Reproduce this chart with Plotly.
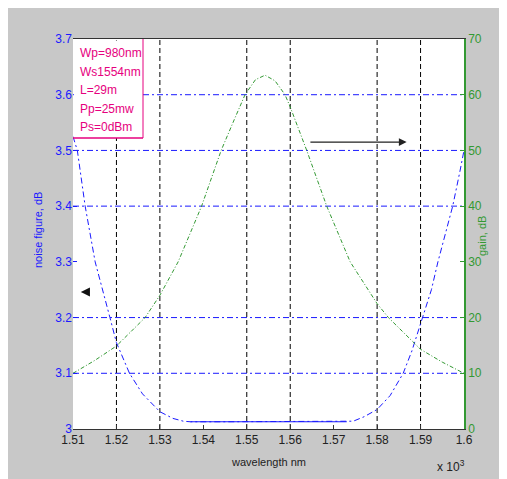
import plotly.graph_objects as go
import numpy as np

# ---------------- data ----------------
nf_wavelength = [1.510, 1.511, 1.5128, 1.5151, 1.5185, 1.520, 1.523, 1.526, 1.530, 1.533, 1.5354,
                 1.537, 1.545, 1.555, 1.565, 1.573,
                 1.5745, 1.577, 1.580, 1.583, 1.586, 1.588, 1.590, 1.5925, 1.594, 1.596, 1.5974, 1.599, 1.600]
nf_value = [3.525, 3.50, 3.40, 3.30, 3.20, 3.155, 3.10, 3.063, 3.031, 3.019, 3.014,
            3.013, 3.013, 3.013, 3.013, 3.013,
            3.014, 3.022, 3.035, 3.06, 3.10, 3.14, 3.19, 3.25, 3.30, 3.36, 3.40, 3.46, 3.50]
nf_flat_range = [1.537, 1.573]

gain_wavelength = [1.510, 1.515, 1.520, 1.5266, 1.530, 1.5342, 1.5396, 1.5441, 1.5471, 1.5496, 1.552,
                   1.5542, 1.5565, 1.5588, 1.560, 1.5638, 1.5684, 1.5738, 1.580, 1.5826, 1.590, 1.595, 1.600]
gain_value = [10.0, 12.3, 14.9, 20.0, 24.0, 30.0, 40.0, 50.0, 55.5, 60.0, 62.7,
              63.5, 62.5, 60.0, 57.8, 50.0, 40.0, 30.0, 22.5, 20.0, 14.3, 12.0, 10.0]

x_ticks = [1.51, 1.52, 1.53, 1.54, 1.55, 1.56, 1.57, 1.58, 1.59, 1.60]
x_ticktext = ["1.51", "1.52", "1.53", "1.54", "1.55", "1.56", "1.57", "1.58", "1.59", "1.6"]
nf_ticks = [3.0, 3.1, 3.2, 3.3, 3.4, 3.5, 3.6, 3.7]
nf_ticktext = ["3", "3.1", "3.2", "3.3", "3.4", "3.5", "3.6", "3.7"]
gain_ticks = [0, 10, 20, 30, 40, 50, 60, 70]

v_grid = [1.52, 1.53, 1.55, 1.56, 1.58, 1.59]
h_grid = [3.1, 3.2, 3.4, 3.5, 3.6]

legend_lines = ["Wp=980nm", "Ws1554nm", "L=29m", "Pp=25mw", "Ps=0dBm"]

# ---------------- style ----------------
BLUE = "#1a1aff"
GREEN = "#339933"
MAGENTA = "#e6007e"
GRAY = "#c8c8c8"
FONT = "Liberation Sans, Arial, sans-serif"

# page body has an 8px margin; figure placed so the plot area sits at window x 73-464, y 39-429
W, H = 499, 471
L, T = 65, 31
PW, PH = 391, 390
R, B = W - L - PW, H - T - PH

PX0, PY1 = 73, 429  # plot area left / bottom in window pixels


def px(x):
    return (x - PX0) / PW


def py(y):
    return (PY1 - y) / PH


fig = go.Figure()

fig.add_trace(go.Scatter(x=nf_wavelength, y=nf_value, mode="lines", yaxis="y",
                         line=dict(color=BLUE, width=1, dash="6px,3px,2px,3px"),
                         showlegend=False, hoverinfo="skip"))
nw = np.array(nf_wavelength)
nv = np.array(nf_value)
mask = (nw >= nf_flat_range[0]) & (nw <= nf_flat_range[1])
fig.add_trace(go.Scatter(x=nw[mask], y=nv[mask], mode="lines", yaxis="y",
                         line=dict(color=BLUE, width=1),
                         showlegend=False, hoverinfo="skip"))
fig.add_trace(go.Scatter(x=gain_wavelength, y=gain_value, mode="lines", yaxis="y2",
                         line=dict(color=GREEN, width=1, dash="4px,2px,1px,2px"),
                         showlegend=False, hoverinfo="skip"))

shapes = []
# gray figure background around plot area
gx0, gx1, gy0, gy1 = px(0), px(520), py(490), py(0)
for (a, b, c, d) in [(gx0, gx1, 1, gy1), (gx0, gx1, gy0, 0), (gx0, 0, 0, 1), (1, gx1, 0, 1)]:
    shapes.append(dict(type="rect", xref="paper", yref="paper", x0=a, x1=b, y0=c, y1=d,
                       fillcolor=GRAY, line=dict(width=0), layer="below"))
# grid lines
for v in v_grid:
    shapes.append(dict(type="line", xref="x", yref="paper", x0=v, x1=v, y0=0, y1=1,
                       line=dict(color="black", width=1, dash="5px,3px"), layer="below"))
for h in h_grid:
    shapes.append(dict(type="line", xref="paper", yref="y", x0=0, x1=1, y0=h, y1=h,
                       line=dict(color=BLUE, width=1, dash="6px,3px,2px,3px"), layer="below"))
# parameter box
bx1, by0 = px(143), py(138)
shapes.append(dict(type="rect", xref="paper", yref="paper", x0=0.002, x1=bx1, y0=by0, y1=1 - 1.5 / PH,
                   fillcolor="white", line=dict(width=0), layer="above"))
shapes.append(dict(type="line", xref="paper", yref="paper", x0=bx1, x1=bx1, y0=by0, y1=1,
                   line=dict(color=MAGENTA, width=1), layer="above"))
shapes.append(dict(type="line", xref="paper", yref="paper", x0=0, x1=bx1, y0=by0, y1=by0,
                   line=dict(color=MAGENTA, width=1.5), layer="above"))

annotations = []
line_y = [53, 71.5, 90, 108.5, 127]
for txt, yy in zip(legend_lines, line_y):
    annotations.append(dict(text=txt, xref="paper", yref="paper", x=px(78), y=py(yy),
                            xanchor="left", yanchor="middle", showarrow=False,
                            font=dict(family=FONT, size=12, color=MAGENTA)))
annotations += [
    dict(text="noise figure, dB", xref="paper", yref="paper", x=px(38), y=py(230), textangle=-90,
         showarrow=False, xanchor="center", yanchor="middle",
         font=dict(family=FONT, size=11, color=BLUE)),
    dict(text="gain, dB", xref="paper", yref="paper", x=px(482), y=py(236), textangle=-90,
         showarrow=False, xanchor="center", yanchor="middle",
         font=dict(family=FONT, size=11, color=GREEN)),
    dict(text="wavelength nm", xref="paper", yref="paper", x=px(268), y=py(462),
         showarrow=False, xanchor="center", yanchor="middle",
         font=dict(family=FONT, size=11, color="#222222")),
    dict(text="x 10<sup>3</sup>", xref="paper", yref="paper", x=px(451), y=py(466),
         showarrow=False, xanchor="center", yanchor="middle",
         font=dict(family=FONT, size=12, color="#222222")),
    # arrows
    dict(text="", x=1.5868, y=3.515, xref="x", yref="y", ax=1.5643, ay=3.515, axref="x", ayref="y",
         showarrow=True, arrowhead=2, arrowsize=1.2, arrowwidth=1.3, arrowcolor="#222222"),
    dict(text="", x=1.5118, y=3.246, xref="x", yref="y", ax=5, ay=0,
         showarrow=True, arrowhead=2, arrowsize=1.4, arrowwidth=1.3, arrowcolor="#111111"),
]

fig.update_layout(
    width=W, height=H,
    margin=dict(l=L, r=R, t=T, b=B, pad=0),
    paper_bgcolor="white", plot_bgcolor="white",
    showlegend=False,
    font=dict(family=FONT, size=12),
    xaxis=dict(range=[1.51, 1.60], tickvals=x_ticks, ticktext=x_ticktext,
               showgrid=False, zeroline=False, showline=True, linecolor="#333333", linewidth=1,
               mirror=True, ticks="inside", ticklen=4, tickcolor="#333333",
               tickfont=dict(family=FONT, size=12, color="#222222")),
    yaxis=dict(range=[3.0, 3.7], tickvals=nf_ticks, ticktext=nf_ticktext,
               showgrid=False, zeroline=False, showline=False,
               ticks="inside", ticklen=4, tickcolor=BLUE,
               tickfont=dict(family=FONT, size=12, color=BLUE)),
    yaxis2=dict(range=[0, 70], tickvals=gain_ticks, overlaying="y", side="right",
                showgrid=False, zeroline=False, showline=True, linecolor=GREEN, linewidth=1.5,
                ticks="inside", ticklen=4, tickcolor=GREEN,
                tickfont=dict(family=FONT, size=12, color=GREEN)),
    shapes=shapes,
    annotations=annotations,
)

fig.write_html("out.html")
